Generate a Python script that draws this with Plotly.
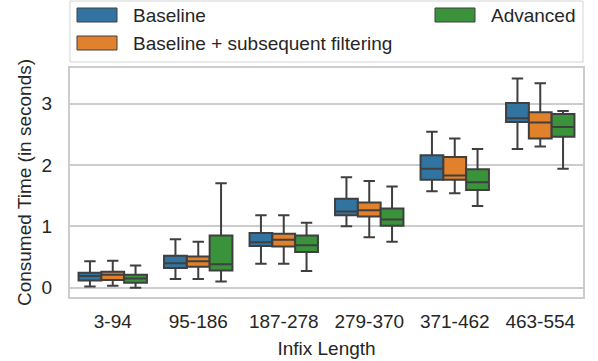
import plotly.graph_objects as go

# infix length buckets
categories = ["3-94", "95-186", "187-278", "279-370", "371-462", "463-554"]
series_names = ["Baseline", "Baseline + subsequent filtering", "Advanced"]

# box statistics per bucket (seconds)
baseline_low = [0.02, 0.14, 0.39, 1.00, 1.57, 2.26]
baseline_q1 = [0.115, 0.32, 0.68, 1.18, 1.76, 2.70]
baseline_med = [0.19, 0.40, 0.74, 1.24, 1.94, 2.76]
baseline_q3 = [0.245, 0.52, 0.89, 1.45, 2.16, 3.01]
baseline_high = [0.43, 0.79, 1.18, 1.80, 2.54, 3.41]

filtering_low = [0.03, 0.14, 0.39, 0.82, 1.54, 2.30]
filtering_q1 = [0.125, 0.34, 0.67, 1.16, 1.76, 2.43]
filtering_med = [0.21, 0.43, 0.78, 1.26, 1.83, 2.69]
filtering_q3 = [0.26, 0.51, 0.88, 1.39, 2.13, 2.86]
filtering_high = [0.44, 0.75, 1.18, 1.74, 2.43, 3.33]

advanced_low = [0.00, 0.10, 0.27, 0.75, 1.33, 1.94]
advanced_q1 = [0.08, 0.28, 0.58, 1.01, 1.59, 2.46]
advanced_med = [0.15, 0.38, 0.69, 1.11, 1.72, 2.62]
advanced_q3 = [0.21, 0.85, 0.85, 1.29, 1.93, 2.83]
advanced_high = [0.36, 1.70, 1.06, 1.65, 2.26, 2.88]

colors = ["#3274a1", "#e1812c", "#3a923a"]
edge = "#3f3f3f"
text_color = "#262626"
font_family = "Liberation Sans, Arial, sans-serif"

stats = [
    (baseline_low, baseline_q1, baseline_med, baseline_q3, baseline_high),
    (filtering_low, filtering_q1, filtering_med, filtering_q3, filtering_high),
    (advanced_low, advanced_q1, advanced_med, advanced_q3, advanced_high),
]

fig = go.Figure()

for name, color, (lo, q1, med, q3, hi) in zip(series_names, colors, stats):
    fig.add_trace(
        go.Box(
            x=categories,
            lowerfence=lo,
            q1=q1,
            median=med,
            q3=q3,
            upperfence=hi,
            name=name,
            fillcolor=color,
            line=dict(color=edge, width=2),
            whiskerwidth=0.5,
            boxpoints=False,
            showlegend=False,
            hoverinfo="skip",
        )
    )

# plot area in pixels: x 70..583, y 68..297
L, R, T, B = 70, 583, 68, 297


def px(x):
    return (x - L) / (R - L)


def py(y):
    return (B - y) / (B - T)


# legend drawn by hand to get matplotlib-like patches
shapes = [
    dict(type="rect", xref="paper", yref="paper",
         x0=px(70), x1=px(583), y0=py(62), y1=py(1),
         line=dict(color="#d4d4d4", width=1), fillcolor="white", layer="above"),
]
annotations = []
legend_pos = [(77, 15), (77, 43), (435, 15)]
for name, color, (lx, ly) in zip(series_names, colors, legend_pos):
    shapes.append(
        dict(type="rect", xref="paper", yref="paper",
             x0=px(lx), x1=px(lx + 40), y0=py(ly + 7), y1=py(ly - 7),
             line=dict(color=edge, width=1), fillcolor=color, layer="above")
    )
    annotations.append(
        dict(text=name, xref="paper", yref="paper", x=px(lx + 54), y=py(ly),
             xanchor="left", yanchor="middle", showarrow=False,
             font=dict(size=19, color=text_color, family=font_family))
    )

fig.update_layout(
    width=598,
    height=361,
    margin=dict(l=L, r=598 - R, t=T, b=361 - B, autoexpand=False),
    plot_bgcolor="white",
    paper_bgcolor="white",
    boxmode="group",
    boxgap=0.2,
    boxgroupgap=0,
    showlegend=False,
    font=dict(family=font_family, size=19, color=text_color),
    shapes=shapes,
    annotations=annotations,
)
fig.update_xaxes(
    type="category",
    automargin=False,
    showgrid=False,
    showline=True,
    mirror=True,
    linecolor="#cccccc",
    linewidth=2,
    ticks="",
    ticklabelstandoff=6,
    title=dict(text="Infix Length", standoff=11, font=dict(size=19)),
)
fig.update_yaxes(
    automargin=False,
    range=[-0.152, 3.58],
    tickvals=[0, 1, 2, 3],
    showgrid=True,
    gridcolor="#cccccc",
    gridwidth=1.6,
    zeroline=False,
    showline=True,
    mirror=True,
    linecolor="#cccccc",
    linewidth=2,
    ticks="",
    ticklabelstandoff=12,
    title=dict(text="Consumed Time (in seconds)", standoff=5, font=dict(size=19)),
)

# drop the default page margin so the figure sits at the window's corner
fig.write_html(
    "out.html",
    config={"displayModeBar": False},
    post_script="document.body.style.margin = '0';",
)
